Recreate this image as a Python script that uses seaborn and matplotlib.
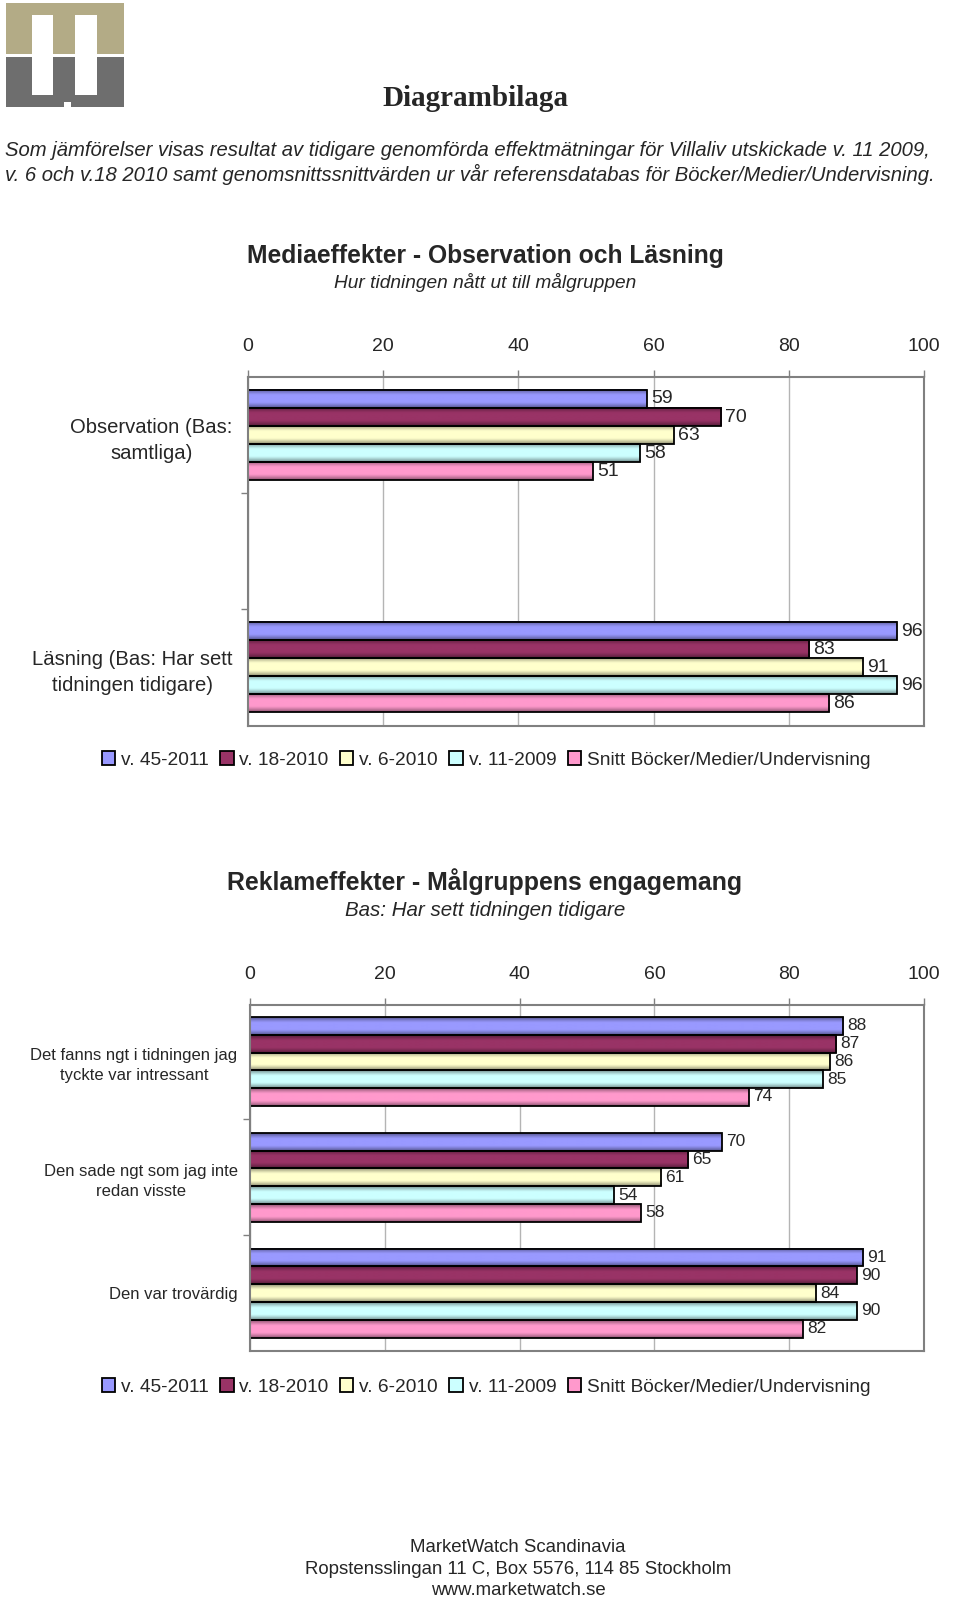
import numpy as np
import pandas as pd
import matplotlib
matplotlib.use("Agg")
import matplotlib.pyplot as plt
import seaborn as sns
from matplotlib.colors import to_rgb
from matplotlib.patches import Rectangle

W, H = 960, 1601

SERIES = ["v. 45-2011", "v. 18-2010", "v. 6-2010", "v. 11-2009",
          "Snitt Böcker/Medier/Undervisning"]
COLORS = ["#9999FF", "#993366", "#FFFFCC", "#CCFFFF", "#FF99CC"]
TICKS = [0, 20, 40, 60, 80, 100]

# Chart 1 - Mediaeffekter
media_cats = ["Observation (Bas:\nsamtliga)",
              "Läsning (Bas: Har sett\ntidningen tidigare)"]
media_v45_2011 = [59, 96]
media_v18_2010 = [70, 83]
media_v6_2010 = [63, 91]
media_v11_2009 = [58, 96]
media_snitt = [51, 86]

# Chart 2 - Reklameffekter
ad_cats = ["Det fanns ngt i tidningen jag\ntyckte var intressant",
           "Den sade ngt som jag inte\nredan visste",
           "Den var trovärdig"]
ad_v45_2011 = [88, 70, 91]
ad_v18_2010 = [87, 65, 90]
ad_v6_2010 = [86, 61, 84]
ad_v11_2009 = [85, 54, 90]
ad_snitt = [74, 58, 82]

sns.set_theme(style="white")
plt.rcParams['font.family'] = ['Liberation Sans', 'DejaVu Sans']


def fx(x):
    return x / W


def fy(y):
    return 1 - y / H


def long_table(cats, series_values):
    rows = []
    for name, vals in zip(SERIES, series_values):
        for c, v in zip(cats, vals):
            rows.append({"cat": c, "series": name, "value": v})
    return pd.DataFrame(rows)


def shade_bars(ax):
    # excel-like gradient fill: darker toward the top/bottom edge of each bar
    t = np.linspace(0, 1, 48)
    prof = np.clip(0.55 + 0.55 * np.sin(np.pi * t), 0, 1.0)
    for c, col in zip(ax.containers, COLORS):
        rgb = np.array(to_rgb(col))
        img = np.clip(prof[:, None, None] * rgb[None, None, :], 0, 1)
        for p in c.patches:
            x0, y0 = p.get_x(), p.get_y()
            w, h = p.get_width(), p.get_height()
            ax.imshow(img, extent=(x0, x0 + w, y0 + h, y0), aspect="auto",
                      interpolation="bilinear", zorder=1.5)
            p.set_facecolor("none")
            p.set_zorder(1.6)


def draw_chart(ax, cats, series_values, width, ylim, minor, cat_size, val_size, cat_pad):
    df = long_table(cats, series_values)
    sns.barplot(data=df, x="value", y="cat", hue="series", hue_order=SERIES,
                order=cats, palette=COLORS, orient="h", width=width,
                saturation=1, edgecolor="black", linewidth=1.3, ax=ax)
    handles, labels = ax.get_legend_handles_labels()
    ax.get_legend().remove()
    shade_bars(ax)
    ax.set_xlim(0, 100)
    ax.set_ylim(*ylim)
    ax.set_xticks(TICKS)
    ax.xaxis.tick_top()
    ax.tick_params(axis="x", top=True, bottom=False, length=5, width=1,
                   color="#808080", pad=11, labelsize=14)
    ax.grid(axis="x", color="#b4b4b4", lw=1)
    ax.set_axisbelow(True)
    ax.set_yticks(minor, minor=True)
    ax.tick_params(axis="y", which="major", length=0, pad=cat_pad, labelsize=cat_size)
    ax.tick_params(axis="y", which="minor", left=True, length=5, width=1, color="#808080")
    for t in ax.get_yticklabels():
        t.set_multialignment("center")
        t.set_linespacing(1.45)
    for s in ax.spines.values():
        s.set_color("#808080")
        s.set_linewidth(1.5)
    ax.set_xlabel("")
    ax.set_ylabel("")
    for c in ax.containers:
        ax.bar_label(c, padding=3, fontsize=val_size, fmt="%g")
    return handles, labels


fig = plt.figure(figsize=(W / 100, H / 100), dpi=100)

# header: logo
bg = fig.add_axes([0, 0, 1, 1], zorder=-1)
bg.set_xlim(0, W)
bg.set_ylim(H, 0)
bg.axis("off")
bg.add_patch(Rectangle((6, 3), 118, 51, color="#b3ab86", lw=0))
bg.add_patch(Rectangle((6, 57), 118, 50, color="#6e6e6e", lw=0))
bg.add_patch(Rectangle((32, 15), 21, 80, color="white", lw=0))
bg.add_patch(Rectangle((75, 15), 22, 80, color="white", lw=0))
bg.add_patch(Rectangle((64, 102), 7, 6, color="white", lw=0))

fig.text(fx(475), fy(99), "Diagrambilaga", ha="center", va="center",
         fontsize=21, fontweight="bold", family=["Liberation Serif", "DejaVu Serif"])
fig.text(fx(5), fy(150), "Som jämförelser visas resultat av tidigare genomförda effektmätningar "
         "för Villaliv utskickade v. 11 2009,", ha="left", va="center",
         fontsize=14.6, style="italic")
fig.text(fx(5), fy(174), "v. 6 och v.18 2010 samt genomsnittssnittvärden ur vår referensdatabas "
         "för Böcker/Medier/Undervisning.", ha="left", va="center",
         fontsize=14.6, style="italic")

# chart 1
ax1 = fig.add_axes([fx(248), fy(726), fx(924 - 248), (726 - 377) / H])
h1, l1 = draw_chart(ax1, media_cats,
                    [media_v45_2011, media_v18_2010, media_v6_2010, media_v11_2009, media_snitt],
                    width=0.388, ylim=(1.254, -0.25), minor=[0.25, 0.75],
                    cat_size=14.6, val_size=14, cat_pad=11)
fig.text(fx(485), fy(256), "Mediaeffekter - Observation och Läsning", ha="center",
         va="center", fontsize=17.7, fontweight="bold")
fig.text(fx(485), fy(283), "Hur tidningen nått ut till målgruppen", ha="center",
         va="center", fontsize=13.8, style="italic")
fig.legend(h1, l1, loc="center", bbox_to_anchor=(fx(486), fy(760)), ncol=5,
           frameon=False, fontsize=13.8, handlelength=0.7, handleheight=0.7,
           handletextpad=0.3, columnspacing=0.6)

# chart 2
ax2 = fig.add_axes([fx(250), fy(1351), fx(924 - 250), (1351 - 1005) / H])
h2, l2 = draw_chart(ax2, ad_cats,
                    [ad_v45_2011, ad_v18_2010, ad_v6_2010, ad_v11_2009, ad_snitt],
                    width=0.767, ylim=(2.5, -0.487), minor=[0.5, 1.5],
                    cat_size=12, val_size=12.5, cat_pad=9)
fig.text(fx(485), fy(882), "Reklameffekter - Målgruppens engagemang", ha="center",
         va="center", fontsize=17.9, fontweight="bold")
fig.text(fx(485), fy(910), "Bas: Har sett tidningen tidigare", ha="center",
         va="center", fontsize=14.8, style="italic")
fig.legend(h2, l2, loc="center", bbox_to_anchor=(fx(486), fy(1387)), ncol=5,
           frameon=False, fontsize=13.8, handlelength=0.7, handleheight=0.7,
           handletextpad=0.3, columnspacing=0.6)

# footer
fig.text(fx(518), fy(1547), "MarketWatch Scandinavia", ha="center", va="center", fontsize=13.4)
fig.text(fx(518), fy(1569), "Ropstensslingan 11 C, Box 5576, 114 85 Stockholm",
         ha="center", va="center", fontsize=13.4)
fig.text(fx(518), fy(1590), "www.marketwatch.se", ha="center", va="center", fontsize=13.4)

fig.savefig("out.png", dpi=100)
